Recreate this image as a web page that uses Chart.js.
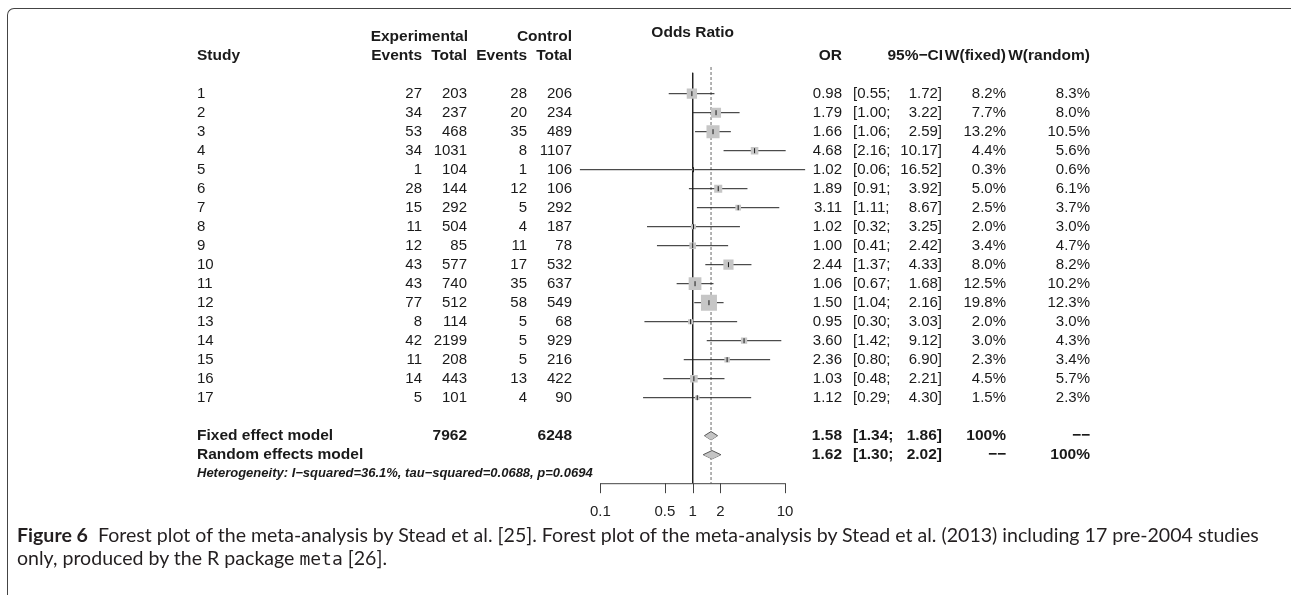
<!DOCTYPE html>
<html>
<head>
<meta charset="utf-8">
<script src="https://cdn.jsdelivr.net/npm/chart.js@4.4.1/dist/chart.umd.min.js"></script>
<style>
  html, body { margin: 0; padding: 0; background: #fff; }
  body { width: 1291px; height: 595px; position: relative; overflow: hidden; }
  #frame {
    position: absolute; left: 7px; top: 8px; width: 1300px; height: 600px;
    border-top: 1.5px solid #444; border-left: 1.5px solid #444;
    border-top-left-radius: 7px; box-sizing: border-box;
  }
  #plot { position: absolute; left: 0; top: 0; }
  #caption {
    position: absolute; left: 17px; top: 523px;
    font-family: Lato, "Open Sans", sans-serif; font-size: 16px;
    line-height: 23px; color: #231f20; white-space: nowrap;
  }
  #caption b { font-weight: 700; }
  #caption code { font-family: "DejaVu Sans Mono", "Liberation Mono", monospace; font-size: 0.92em; }
</style>
</head>
<body>
<div id="frame"></div>
<canvas id="plot" width="1291" height="595"></canvas>
<div id="caption"><span id="capHead"><b>Figure 6</b>&nbsp; Forest plot of the meta-analysis by Stead et al. [25]. Forest plot of </span>the meta-analysis by Stead et al. (2013) including 17 pre-2004 studies<br>only, produced by the R package <code>meta</code> [26].</div>
<script>
// study data
const studies = ['1', '2', '3', '4', '5', '6', '7', '8', '9', '10', '11', '12', '13', '14', '15', '16', '17'];
const expEvents = [27, 34, 53, 34, 1, 28, 15, 11, 12, 43, 43, 77, 8, 42, 11, 14, 5];
const expTotal = [203, 237, 468, 1031, 104, 144, 292, 504, 85, 577, 740, 512, 114, 2199, 208, 443, 101];
const ctrlEvents = [28, 20, 35, 8, 1, 12, 5, 4, 11, 17, 35, 58, 5, 5, 5, 13, 4];
const ctrlTotal = [206, 234, 489, 1107, 106, 106, 292, 187, 78, 532, 637, 549, 68, 929, 216, 422, 90];
const oddsRatio = [0.98, 1.79, 1.66, 4.68, 1.02, 1.89, 3.11, 1.02, 1.00, 2.44, 1.06, 1.50, 0.95, 3.60, 2.36, 1.03, 1.12];
const ciLower = [0.55, 1.00, 1.06, 2.16, 0.06, 0.91, 1.11, 0.32, 0.41, 1.37, 0.67, 1.04, 0.30, 1.42, 0.80, 0.48, 0.29];
const ciUpper = [1.72, 3.22, 2.59, 10.17, 16.52, 3.92, 8.67, 3.25, 2.42, 4.33, 1.68, 2.16, 3.03, 9.12, 6.90, 2.21, 4.30];
const weightFixed = [8.2, 7.7, 13.2, 4.4, 0.3, 5.0, 2.5, 2.0, 3.4, 8.0, 12.5, 19.8, 2.0, 3.0, 2.3, 4.5, 1.5];
const weightRandom = [8.3, 8.0, 10.5, 5.6, 0.6, 6.1, 3.7, 3.0, 4.7, 8.2, 10.2, 12.3, 3.0, 4.3, 3.4, 5.7, 2.3];

// pooled estimates
const summaryLabels = ['Fixed effect model', 'Random effects model'];
const summaryExpTotal = [7962, null];
const summaryCtrlTotal = [6248, null];
const summaryOR = [1.58, 1.62];
const summaryLower = [1.34, 1.30];
const summaryUpper = [1.86, 2.02];
const summaryWFixed = ['100%', '\u2212\u2212'];
const summaryWRandom = ['\u2212\u2212', '100%'];
const heterogeneity = 'Heterogeneity: I\u2212squared=36.1%, tau\u2212squared=0.0688, p=0.0694';

const tickLabels = [0.1, 0.5, 1, 2, 10];
const nullValue = 1;

// row layout (y in row units, 1 = first study)
const studyRows = studies.map((_, i) => i + 1);
const summaryRows = [19, 20];
const hetRow = 21;
const axisRow = 21.5;
const tickLabelRow = 23;
const topRow = -0.1;
const diamondHalf = 0.22;

const FONT = '"Liberation Sans", Arial, sans-serif';
const ink = '#1a1a1a';

// caption: the second "the" on line 1 starts near x=662
const capHead = document.getElementById('capHead');
const headWidth = capHead.getBoundingClientRect().width;
document.getElementById('caption').style.fontSize = (16 * 645 / headWidth).toFixed(2) + 'px';

// CI segments broken by gaps
const ciSegments = [];
studyRows.forEach((r, i) => {
  ciSegments.push({ x: ciLower[i], y: r }, { x: ciUpper[i], y: r }, { x: null, y: null });
});

const diamondSets = [];
summaryRows.forEach((r, i) => {
  const upper = [{ x: summaryLower[i], y: r }, { x: summaryOR[i], y: r - diamondHalf }, { x: summaryUpper[i], y: r }];
  const lower = [{ x: summaryLower[i], y: r }, { x: summaryOR[i], y: r + diamondHalf }, { x: summaryUpper[i], y: r }];
  diamondSets.push({
    type: 'line', data: upper, borderColor: '#555', borderWidth: 1,
    backgroundColor: '#c4c4c4', fill: '+1', pointRadius: 0, tension: 0, order: 4,
  });
  diamondSets.push({
    type: 'line', data: lower, borderColor: '#555', borderWidth: 1,
    fill: false, pointRadius: 0, tension: 0, order: 4,
  });
});

const columnsPlugin = {
  id: 'columns',
  afterDraw(chart) {
    const { ctx, scales } = chart;
    const y = (r) => scales.y.getPixelForValue(r);
    const xp = (v) => scales.x.getPixelForValue(v);
    const put = (str, x, r, align, font) => {
      ctx.font = font;
      ctx.textAlign = align;
      ctx.fillText(str, x, y(r));
    };
    const reg = '15px ' + FONT;
    const bold = 'bold 15.5px ' + FONT;

    ctx.save();
    ctx.fillStyle = ink;
    ctx.textBaseline = 'middle';

    // headers
    put('Experimental', 468, -2, 'right', bold);
    put('Control', 572, -2, 'right', bold);
    put('Odds Ratio', xp(nullValue), -2.2, 'center', bold);
    put('Study', 197, -1, 'left', bold);
    put('Events', 422, -1, 'right', bold);
    put('Total', 467, -1, 'right', bold);
    put('Events', 527, -1, 'right', bold);
    put('Total', 572, -1, 'right', bold);
    put('OR', 842, -1, 'right', bold);
    put('95%\u2212CI', 943, -1, 'right', bold);
    put('W(fixed)', 1006, -1, 'right', bold);
    put('W(random)', 1090, -1, 'right', bold);

    // study rows
    studyRows.forEach((r, i) => {
      put(studies[i], 197, r, 'left', reg);
      put(String(expEvents[i]), 422, r, 'right', reg);
      put(String(expTotal[i]), 467, r, 'right', reg);
      put(String(ctrlEvents[i]), 527, r, 'right', reg);
      put(String(ctrlTotal[i]), 572, r, 'right', reg);
      put(oddsRatio[i].toFixed(2), 842, r, 'right', reg);
      put('[' + ciLower[i].toFixed(2) + ';', 853, r, 'left', reg);
      put(ciUpper[i].toFixed(2) + ']', 942, r, 'right', reg);
      put(weightFixed[i].toFixed(1) + '%', 1006, r, 'right', reg);
      put(weightRandom[i].toFixed(1) + '%', 1090, r, 'right', reg);
    });

    // pooled rows
    summaryRows.forEach((r, i) => {
      put(summaryLabels[i], 197, r, 'left', bold);
      if (summaryExpTotal[i] !== null) put(String(summaryExpTotal[i]), 467, r, 'right', bold);
      if (summaryCtrlTotal[i] !== null) put(String(summaryCtrlTotal[i]), 572, r, 'right', bold);
      put(summaryOR[i].toFixed(2), 842, r, 'right', bold);
      put('[' + summaryLower[i].toFixed(2) + ';', 853, r, 'left', bold);
      put(summaryUpper[i].toFixed(2) + ']', 942, r, 'right', bold);
      put(summaryWFixed[i], 1006, r, 'right', bold);
      put(summaryWRandom[i], 1090, r, 'right', bold);
    });
    put(heterogeneity, 197, hetRow, 'left', 'italic bold 13px ' + FONT);

    // bottom axis
    const ay = y(axisRow);
    ctx.strokeStyle = '#444';
    ctx.lineWidth = 1;
    ctx.beginPath();
    ctx.moveTo(xp(tickLabels[0]), ay + 0.5);
    ctx.lineTo(xp(tickLabels[tickLabels.length - 1]), ay + 0.5);
    tickLabels.forEach((t) => {
      const tx = Math.round(xp(t)) + 0.5;
      ctx.moveTo(tx, ay);
      ctx.lineTo(tx, ay + 10);
    });
    ctx.stroke();
    ctx.fillStyle = '#222';
    tickLabels.forEach((t) => put(String(t), xp(t), tickLabelRow, 'center', reg));
    ctx.restore();
  },
};

new Chart(document.getElementById('plot'), {
  type: 'scatter',
  data: {
    datasets: [
      {
        // point estimate marks
        data: studyRows.map((r, i) => ({ x: oddsRatio[i], y: r })),
        pointStyle: 'line', rotation: 90, pointRadius: 2.5,
        borderColor: ink, borderWidth: 1, order: 0,
      },
      {
        // study squares sized by fixed weight
        data: studyRows.map((r, i) => ({ x: oddsRatio[i], y: r })),
        pointStyle: 'rect',
        pointRadius: weightFixed.map((w) => (3.6 * Math.sqrt(w)) / Math.SQRT2),
        backgroundColor: '#c6c6c6', borderWidth: 0, order: 1,
      },
      {
        type: 'line', data: ciSegments, borderColor: '#222', borderWidth: 1,
        pointRadius: 0, spanGaps: false, fill: false, order: 2,
      },
      ...diamondSets,
      {
        type: 'line', data: [{ x: nullValue, y: topRow }, { x: nullValue, y: axisRow }],
        borderColor: '#222', borderWidth: 1, pointRadius: 0, fill: false, order: 5,
      },
      {
        type: 'line', data: [{ x: summaryOR[0], y: topRow - 0.3 }, { x: summaryOR[0], y: axisRow }],
        borderColor: '#9a9a9a', borderWidth: 1.5, borderDash: [3, 2], pointRadius: 0, fill: false, order: 6,
      },
    ],
  },
  options: {
    responsive: false,
    devicePixelRatio: 1,
    animation: false,
    layout: { padding: { left: 572.6, right: 478.2, top: 17.7, bottom: 45.3 } },
    plugins: { legend: { display: false }, tooltip: { enabled: false } },
    scales: {
      x: { type: 'logarithmic', min: 0.05, max: 20, bounds: 'data', display: false },
      y: { type: 'linear', reverse: true, min: -3, max: 25, bounds: 'data', display: false },
    },
  },
  plugins: [columnsPlugin],
});
</script>
</body>
</html>
